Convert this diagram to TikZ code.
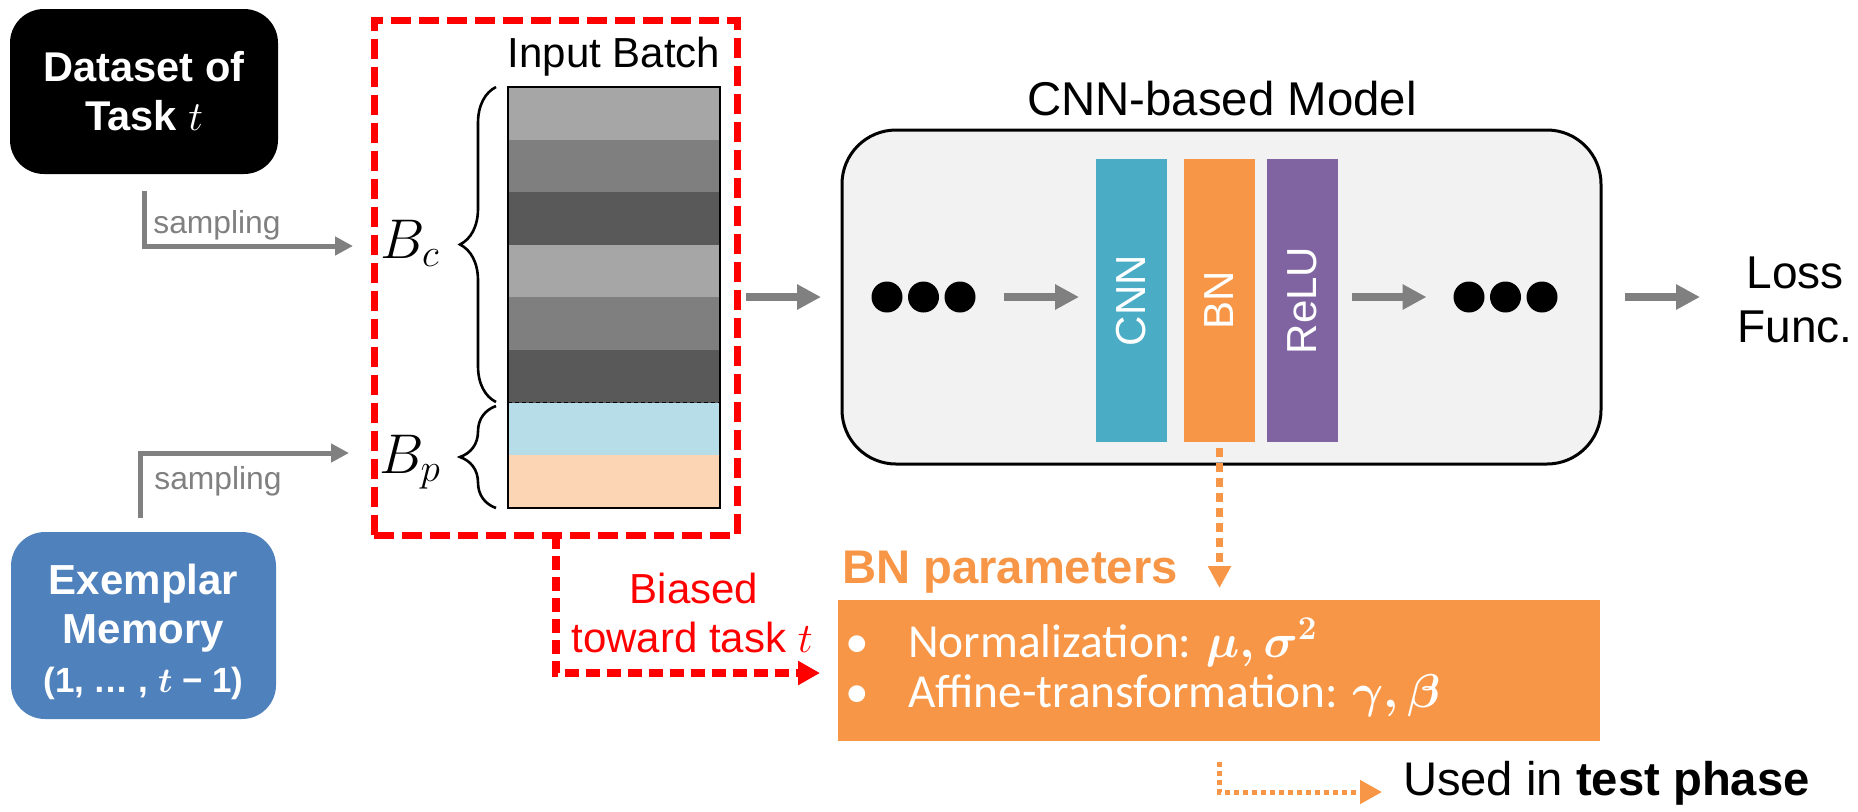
\RequirePackage{fix-cm}
\documentclass[tikz,border=0pt]{standalone}
\usepackage{amsmath}
\usepackage{fontspec}
\setmainfont{Liberation Sans}
\newfontfamily\calibrifont{Carlito}
\usetikzlibrary{arrows.meta,decorations.pathreplacing,calc}
\definecolor{grayarr}{RGB}{128,128,128}
\definecolor{exblue}{RGB}{79,129,189}
\definecolor{gl}{RGB}{166,166,166}
\definecolor{gm}{RGB}{127,127,127}
\definecolor{gd}{RGB}{89,89,89}
\definecolor{lblue}{RGB}{183,222,232}
\definecolor{peach}{RGB}{252,213,181}
\definecolor{modelbg}{RGB}{242,242,242}
\definecolor{cnncol}{RGB}{75,172,198}
\definecolor{bncol}{RGB}{247,150,70}
\definecolor{relucol}{RGB}{128,100,162}
\newcommand\setfs[2]{\fontsize{#1}{#2}\selectfont}
\begin{document}
\begin{tikzpicture}[x=0.5pt,y=-0.5pt,
  every node/.style={outer sep=0pt},
  txt/.style={inner sep=0pt},
  garrow/.style={draw=grayarr, line width=4pt, -{Triangle[length=12pt,width=12pt]}},
  samparrow/.style={draw=grayarr, line width=2.5pt, -{Triangle[length=9pt,width=9pt]}},
  redarrow/.style={draw=red, line width=4pt, dash pattern=on 7pt off 3.5pt, -{Triangle[length=11pt,width=11.5pt]}},
  bndash/.style={draw=bncol, line width=3.5pt, dash pattern=on 4.5pt off 3pt, -{Triangle[length=11pt,width=11pt]}},
  usedarrow/.style={draw=bncol, line width=2.5pt, dash pattern=on 2.5pt off 2pt, -{Triangle[length=11pt,width=11.5pt]}},
  bar/.style={rectangle, rotate=90, minimum width=141.5pt, minimum height=35.5pt, inner sep=0pt, text=white, font=\setfs{21}{24}},
  dot/.style={circle, fill=black, minimum size=15.5pt, inner sep=0pt},
  brc/.style={decorate, decoration={brace, amplitude=18pt}, line width=1.3pt}
]
\useasboundingbox (0,0) rectangle (1858,811);

% left sources
\node[rectangle, rounded corners=17pt, fill=black, minimum width=134pt, minimum height=82.5pt, inner sep=0pt,
      text=white, align=center, font={\setfs{20.8}{24.5}\bfseries}] (dataset) at (144,91.5) {Dataset of\\Task $t$};
\node[rectangle, rounded corners=17pt, fill=exblue, minimum width=132.5pt, minimum height=93.5pt, inner sep=0pt] (exemplar) at (143.5,625.5) {};
\node[txt, text=white, align=center, font={\setfs{21}{24.5}\bfseries}] (exlabel) at (143.5,632)
   {Exemplar\\Memory\\{\setfs{17.5}{24.5}(1, … , {\boldmath$t$} − 1)}};

% sampling arrows
\coordinate (s1a) at (144,191);
\coordinate (s1b) at (353,246);
\draw[samparrow] (s1a) |- (s1b);
\node[txt, text=grayarr, font=\setfs{15.9}{18}] (samp1) at (217,225) {sampling};
\coordinate (s2a) at (140,518);
\coordinate (s2b) at (349,453);
\draw[samparrow] (s2a) |- (s2b);
\node[txt, text=grayarr, font=\setfs{15.9}{18}] (samp2) at (218,481) {sampling};

% input batch
\node[txt, anchor=base, font=\setfs{21}{25}] (inbatch) at (614,67) {Input Batch};
\foreach \i/\c in {0/gl,1/gm,2/gd,3/gl,4/gm,5/gd,6/lblue,7/peach}
  \fill[\c] (508,{87+52.6*\i}) rectangle (720,{87+52.6*(\i+1)});
\draw[dash pattern=on 2pt off 1.5pt, line width=0.7pt] (508,402.6) -- (720,402.6);
\node[draw, line width=1.3pt, minimum width=106pt, minimum height=210.5pt, inner sep=0pt] (batch) at (614,297.5) {};
\draw[brc] (496,402) -- (496,87);
\draw[brc] (496,508) -- (496,406);
\node[txt, anchor=base, font=\setfs{28}{30}] (Bc) at (410,258) {$B_c$};
\node[txt, anchor=base, font=\setfs{28}{30}] (Bp) at (410,473) {$B_p$};

% red dashed group
\node[draw=red, dash pattern=on 10pt off 4pt, line width=3.5pt, minimum width=181.5pt, minimum height=257.5pt, inner sep=0pt] (redbox) at (555.5,277.5) {};

% model
\node[txt, anchor=base, font=\setfs{23.7}{28}] (modellabel) at (1222,115) {CNN-based Model};
\node[draw, line width=1.5pt, fill=modelbg, rounded corners=27pt, minimum width=379.5pt, minimum height=167pt, inner sep=0pt] (model) at (1221.5,297) {};
\foreach \n/\x in {1/887,2/923.5,3/960} \node[dot] (da\n) at (\x,297) {};
\foreach \n/\x in {1/1469,2/1505.5,3/1542} \node[dot] (db\n) at (\x,297) {};
\node[bar, fill=cnncol] (cnn) at (1131.5,300.5) {CNN};
\node[bar, fill=bncol] (bn) at (1219.5,300.5) {BN};
\node[bar, fill=relucol] (relu) at (1302.5,300.5) {ReLU};

\draw[garrow, shorten <=4.5pt, shorten >=10.5pt] (redbox.east |- model.west) -- (model.west);
\draw[garrow, shorten <=14.25pt, shorten >=8.5pt] (da3.east) -- (da3.east -| cnn.north);
\draw[garrow, shorten <=7pt, shorten >=13.5pt] (db1.west -| relu.south) -- (db1.west);

% loss
\node[txt, align=center, font=\setfs{23}{27}] (loss) at (1795,300) {Loss\\Func.};
\coordinate (losstip) at (1700,297);
\draw[garrow, shorten <=12pt] (model.east) -- (losstip);

% BN parameters
\node[txt, anchor=base, text=bncol, font={\setfs{23.6}{28}\bfseries}] (bnparam) at (1010,583) {BN parameters};
\node[fill=bncol, minimum width=381pt, minimum height=70.5pt, inner sep=0pt] (bnbox) at (1219,670.5) {};
\draw[bndash, shorten <=3pt, shorten >=6pt] (bn.west) -- (bn.west |- bnbox.north);
\node[txt, anchor=base, text=white, font={\calibrifont\setfs{23.7}{28}}] (bul1) at (857,657) {•};
\node[txt, anchor=base west, text=white, font={\calibrifont\setfs{23.7}{28}}] (norm) at (908,657) {Normalization: {\boldmath$\mu,\sigma^2$}};
\node[txt, anchor=base, text=white, font={\calibrifont\setfs{23.7}{28}}] (bul2) at (857,707) {•};
\node[txt, anchor=base west, text=white, font={\calibrifont\setfs{23.7}{28}}] (affine) at (908,707) {Affine-transformation: {\boldmath$\gamma,\beta$}};

% biased
\node[txt, anchor=base, text=red, font=\setfs{21}{25}] (biased1) at (694,603) {Biased};
\node[txt, anchor=base, text=red, font=\setfs{21}{25}] (biased2) at (692,652) {toward task $t$};
\coordinate (redtip) at (820,673);
\draw[redarrow] (redbox.south) |- (redtip);

% used in test phase
\node[txt, anchor=base west, font=\setfs{23.6}{28}] (used) at (1403,795) {Used in \textbf{test phase}};
\coordinate (usedtip) at (1382,792);
\draw[usedarrow, shorten <=10.5pt] (bnbox.south) |- (usedtip);
\end{tikzpicture}
\end{document}
